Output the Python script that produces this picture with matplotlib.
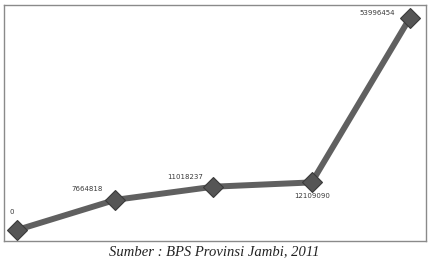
import matplotlib.pyplot as plt
import numpy as np

# data
years = [0, 1, 2, 3, 4]
values = [0, 7664818, 11018237, 12109090, 53996454]
labels = ["0", "7664818", "11018237", "12109090", "53996454"]
# label offsets in pixels (dx, dy)
offsets = [(-5, 18), (-28, 11), (-28, 10), (0, -14), (-33, 5)]

fig = plt.figure(figsize=(4.28, 2.58), dpi=100)
ax = fig.add_axes([4 / 428, 1 - 241 / 258, 422 / 428, 236 / 258])

ax.plot(years, values, color='#606060', linewidth=4.3, solid_capstyle='round',
        marker='D', markersize=10, markerfacecolor='#555555',
        markeredgecolor='#3a3a3a', markeredgewidth=0.8, zorder=3)

for x, y, lab, (dx, dy) in zip(years, values, labels, offsets):
    ax.annotate(lab, (x, y), xytext=(dx, dy), textcoords='offset pixels',
                ha='center', va='center', fontsize=5, color='#3a3a3a')

ax.set_xlim(-0.132, 4.163)
ax.set_ylim(-2.8e6, 57.25e6)
ax.set_xticks([])
ax.set_yticks([])
for s in ax.spines.values():
    s.set_color('#8a8a8a')
    s.set_linewidth(1.0)

fig.text(214 / 428, 1 - 252 / 258, "Sumber : BPS Provinsi Jambi, 2011",
         ha='center', va='center', fontsize=10.5, style='italic',
         family='Liberation Serif', color='#222222')

fig.savefig('out.png', dpi=100)
